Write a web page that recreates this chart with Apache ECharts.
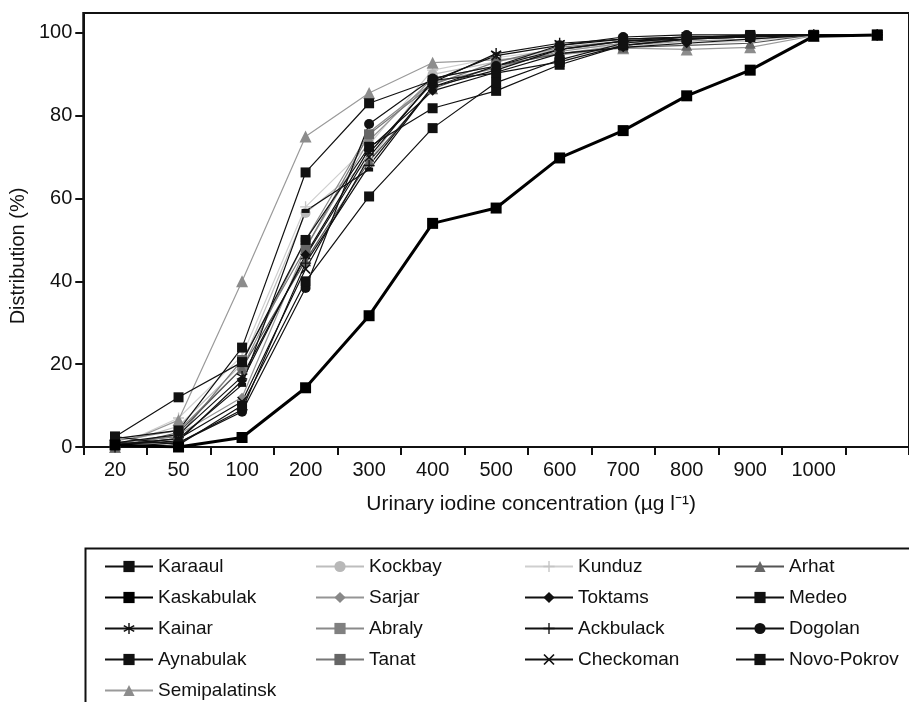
<!DOCTYPE html>
<html>
<head>
<meta charset="utf-8">
<script src="https://cdn.jsdelivr.net/npm/echarts@6/dist/echarts.min.js"></script>
<style>html,body{margin:0;padding:0;background:#fff;}#c{width:909px;height:702px;}</style>
</head>
<body>
<div id="c"></div>
<script>
// ---- data ----
const categories = ['20','50','100','200','300','400','500','600','700','800','900','1000',''];
const yTicks = [0, 20, 40, 60, 80, 100];
const karaaul      = [2.5, 12, 20.5, 50, 72.5, 81.8, 86, 92.3, 97, 98.5, 99, 99.5, 99.5];
const kaskabulak   = [0.5, 0, 2.3, 14.3, 31.7, 54, 57.7, 69.8, 76.4, 84.8, 91, 99.2, 99.5];
const kainar       = [1, 3, 17, 46, 71, 88, 95, 97.5, 98.5, 99, 99.3, 99.5, 99.5];
const aynabulak    = [0.5, 2, 15, 57, 67, 87, 92, 96, 98, 99, 99.3, 99.5, 99.5];
const semipalatinsk= [0, 6.5, 40, 75, 85.5, 92.8, 93.5, 94.7, 96.3, 96, 96.5, 99.3, 99.5];
const kockbay      = [0.5, 5, 20, 56.5, 69, 90, 93, 96, 97.5, 98.5, 99, 99.5, 99.5];
const sarjar       = [0, 3, 12, 48, 74, 89, 92, 95, 97, 98, 98.5, 99.5, 99.5];
const abraly       = [1.5, 4, 19, 50, 76, 88, 91.5, 95.5, 97.5, 98.5, 99, 99.5, 99.5];
const tanat        = [1, 2.5, 21, 48, 75.5, 87.5, 93, 96.5, 98, 99, 99.2, 99.5, 99.5];
const kunduz       = [0, 7, 22, 58, 73, 91, 94, 96, 97, 97.5, 98, 99.5, 99.5];
const toktams      = [0.5, 1.5, 16, 46.4, 72, 86, 90.5, 95, 96.5, 97.5, 98.5, 99.5, 99.5];
const ackbulack    = [0, 1, 9, 44.4, 68, 87, 91, 96, 98, 98.5, 99, 99.5, 99.5];
const checkoman    = [0.5, 2, 11, 43, 70, 88.5, 94.5, 97, 98.5, 99, 99.2, 99.5, 99.5];
const arhat        = [0, 3.5, 19, 45, 69, 86.5, 92, 95, 96.5, 97, 97.5, 99.5, 99.5];
const medeo        = [2, 4, 24, 66.3, 83, 88.5, 90.3, 93, 97, 98.5, 99.5, 99.5, 99.5];
const dogolan      = [1, 1, 8.5, 38.4, 78, 89, 92, 97, 99, 99.5, 99.5, 99.5, 99.5];
const novoPokrov   = [2.5, 0.5, 10, 40, 60.5, 77, 88, 93.5, 97.5, 99, 99.3, 99.5, 99.5];

const legendCol1 = ['Karaaul','Kaskabulak','Kainar','Aynabulak','Semipalatinsk'];
const legendCol2 = ['Kockbay','Sarjar','Abraly','Tanat'];
const legendCol3 = ['Kunduz','Toktams','Ackbulack','Checkoman'];
const legendCol4 = ['Arhat','Medeo','Dogolan','Novo-Pokrov'];

// ---- symbols ----
const PLUS = 'path://M4.4,0V10H5.6V0ZM0,4.4V5.6H10V4.4Z';
const CROSS = 'path://M8.112,8.96L8.96,8.112L1.888,1.04L1.04,1.888ZM8.96,1.888L8.112,1.04L1.04,8.112L1.888,8.96Z';
const STAR = 'path://M4.4,0V10H5.6V0ZM9.005,8.063L9.655,6.937L0.995,1.937L0.345,3.063ZM9.655,3.063L9.005,1.937L0.345,6.937L0.995,8.063Z';

const FONT = '"Liberation Sans", Arial, Helvetica, sans-serif';

function mk(name, data, lineColor, symColor, symbol, size, width) {
  return {
    name, type: 'line', data,
    symbol, symbolSize: size, showSymbol: true,
    lineStyle: { color: lineColor, width: width || 1.2 },
    itemStyle: { color: symColor, borderWidth: 0 },
    emphasis: { disabled: true },
    animation: false
  };
}

const series = [
  mk('Kunduz', kunduz, '#cfcfcf', '#c4c4c4', PLUS, 11),
  mk('Kockbay', kockbay, '#bdbdbd', '#b8b8b8', 'circle', 10),
  mk('Semipalatinsk', semipalatinsk, '#9a9a9a', '#8c8c8c', 'triangle', 12),
  mk('Sarjar', sarjar, '#959595', '#888', 'diamond', 9),
  mk('Abraly', abraly, '#8a8a8a', '#808080', 'rect', [10, 5]),
  mk('Tanat', tanat, '#777', '#666', 'rect', 10),
  mk('Arhat', arhat, '#555', '#666', 'triangle', 11),
  mk('Karaaul', karaaul, '#111', '#111', 'rect', 10),
  mk('Kainar', kainar, '#111', '#111', STAR, 11),
  mk('Aynabulak', aynabulak, '#111', '#111', 'rect', [8, 4]),
  mk('Toktams', toktams, '#111', '#111', 'diamond', 10),
  mk('Ackbulack', ackbulack, '#111', '#111', PLUS, 11),
  mk('Checkoman', checkoman, '#111', '#111', CROSS, 10),
  mk('Medeo', medeo, '#111', '#111', 'rect', 10),
  mk('Dogolan', dogolan, '#111', '#111', 'circle', 10),
  mk('Novo-Pokrov', novoPokrov, '#111', '#111', 'rect', 10),
  mk('Kaskabulak', kaskabulak, '#000', '#000', 'rect', 11, 3)
];

function legendCol(left, data) {
  return {
    orient: 'vertical', left, top: 557, height: 220, padding: 0,
    itemWidth: 48, itemHeight: 14, itemGap: 12,
    selectedMode: false, data,
    textStyle: { fontSize: 19, color: '#111', fontFamily: FONT }
  };
}

const chart = echarts.init(document.getElementById('c'), null, { renderer: 'canvas' });
chart.setOption({
  backgroundColor: '#fff',
  animation: false,
  grid: { left: 83, top: 13, width: 836, height: 434, show: true, borderColor: '#111', borderWidth: 2, containLabel: false },
  xAxis: {
    type: 'category', data: categories, boundaryGap: true,
    name: 'Urinary iodine concentration (\u00b5g l\u207b\u00b9)', nameLocation: 'middle', nameGap: 47,
    nameTextStyle: { fontSize: 21, color: '#111', fontFamily: FONT, padding: [0, 0, 0, 70] },
    axisLine: { lineStyle: { color: '#111', width: 2 } },
    axisTick: { show: true, length: 8, alignWithLabel: false, interval: 0, lineStyle: { color: '#111', width: 2 } },
    axisLabel: { interval: 0, margin: 13, fontSize: 20, color: '#111', fontFamily: FONT },
    splitLine: { show: false }
  },
  yAxis: {
    type: 'value', min: 0, max: 104.8, interval: 20,
    name: 'Distribution (%)', nameLocation: 'middle', nameGap: 52, nameRotate: 90,
    nameTextStyle: { fontSize: 20, color: '#111', fontFamily: FONT, padding: [0, 52, 0, 0] },
    axisLine: { show: true, lineStyle: { color: '#111', width: 2 } },
    axisTick: { show: true, length: 8, customValues: yTicks, lineStyle: { color: '#111', width: 2 } },
    axisLabel: { margin: 11, fontSize: 20, color: '#111', fontFamily: FONT, customValues: yTicks },
    splitLine: { show: false }
  },
  legend: [legendCol(104, legendCol1), legendCol(315, legendCol2), legendCol(524, legendCol3), legendCol(735, legendCol4)],
  graphic: [{
    type: 'rect', left: 83, top: 546, silent: true,
    shape: { width: 900, height: 300 },
    style: { fill: 'none', stroke: '#111', lineWidth: 2 }
  }],
  series
});
</script>
</body>
</html>
